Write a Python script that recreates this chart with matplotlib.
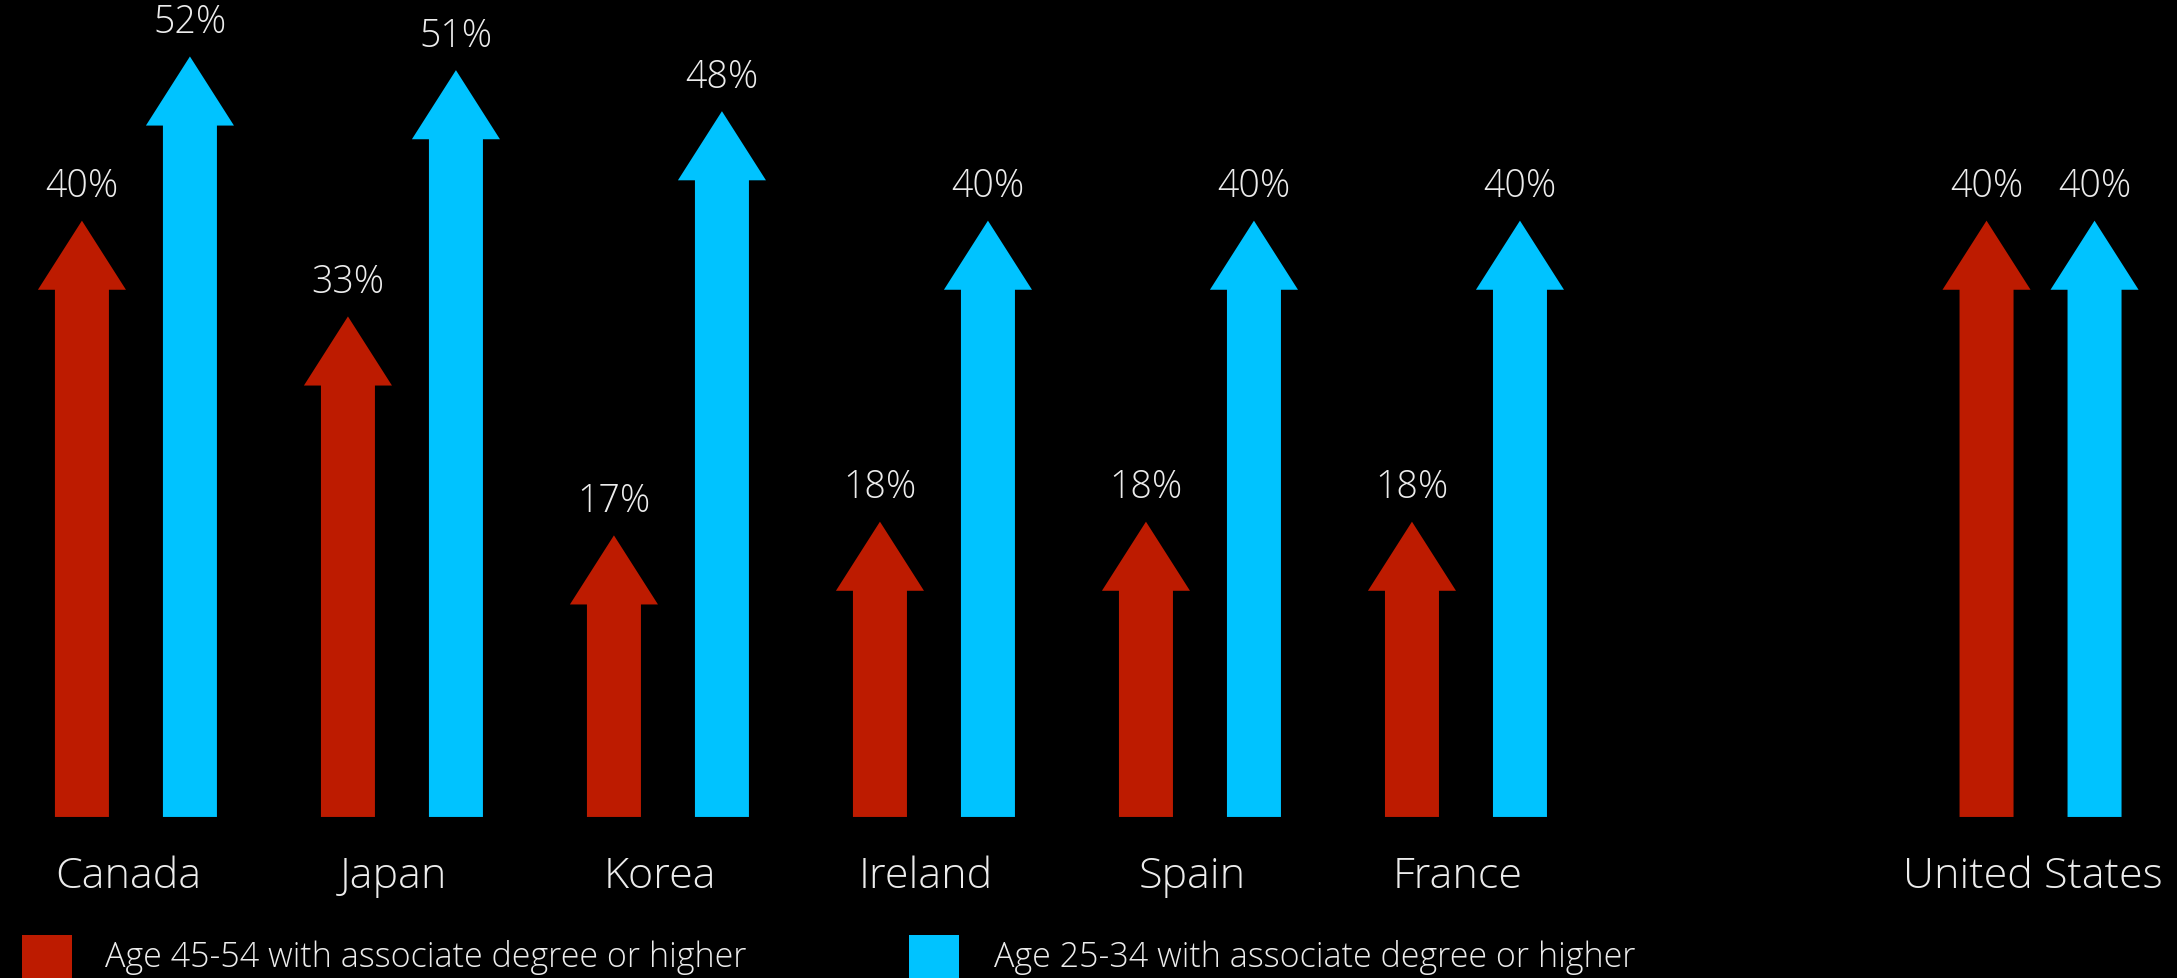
import matplotlib.pyplot as plt
from matplotlib.patches import FancyArrow, Rectangle

countries = ['Canada', 'Japan', 'Korea', 'Ireland', 'Spain', 'France', 'United States']
age_45_54 = [40, 33, 17, 18, 18, 18, 40]
age_25_34 = [52, 51, 48, 40, 40, 40, 40]
legend_labels = ['Age 45-54 with associate degree or higher',
                 'Age 25-34 with associate degree or higher']

RED = '#bd1b00'
BLUE = '#00c3ff'
TEXT = '#ececec'
FONT = ['Open Sans', 'DejaVu Sans']
WEIGHT = 'light'

# group slots: the US sits apart from the others
slots = [0, 1, 2, 3, 4, 5, 7.16]
offset = 0.203      # half distance between the two arrows of a group
shaft = 0.203
head_w = 0.331
head_len = 5.05
base = -3.58        # arrows start a little below the zero line

fig = plt.figure(figsize=(21.77, 9.79), dpi=100, facecolor='black')
ax = fig.add_axes([0, 0, 1, 1])
ax.set_facecolor('black')
ax.set_xlim(-0.511, 7.673)
ax.set_ylim(-15.35, 56.2)
ax.axis('off')

for x, old, young in zip(slots, age_45_54, age_25_34):
    for dx, val, col in [(-offset, old, RED), (offset, young, BLUE)]:
        arr = FancyArrow(x + dx, base, 0, val - base, width=shaft,
                         head_width=head_w, head_length=head_len,
                         length_includes_head=True, color=col, lw=0)
        ax.add_patch(arr)
        ax.annotate('{}%'.format(val), (x + dx, val), xytext=(0, 25),
                    textcoords='offset points', ha='center', va='center',
                    fontsize=27, color=TEXT, family=FONT, fontweight=WEIGHT)

for x, name in zip(slots, countries):
    ax.text(x - 0.03, -7.9, name, ha='center', va='center', fontsize=31,
            color=TEXT, family=FONT, fontweight=WEIGHT)

# legend along the bottom edge
W, H = 2177, 979
for (x0, xt), col, lab in zip([(22, 105), (909, 994)], [RED, BLUE], legend_labels):
    fig.add_artist(Rectangle((x0 / W, (H - 986) / H), 50 / W, 50 / H,
                             transform=fig.transFigure, color=col, lw=0))
    fig.text(xt / W, (H - 958) / H, lab, ha='left', va='center', fontsize=24.5,
             color=TEXT, family=FONT, fontweight=WEIGHT)

fig.savefig('out.png', dpi=100, facecolor='black')
